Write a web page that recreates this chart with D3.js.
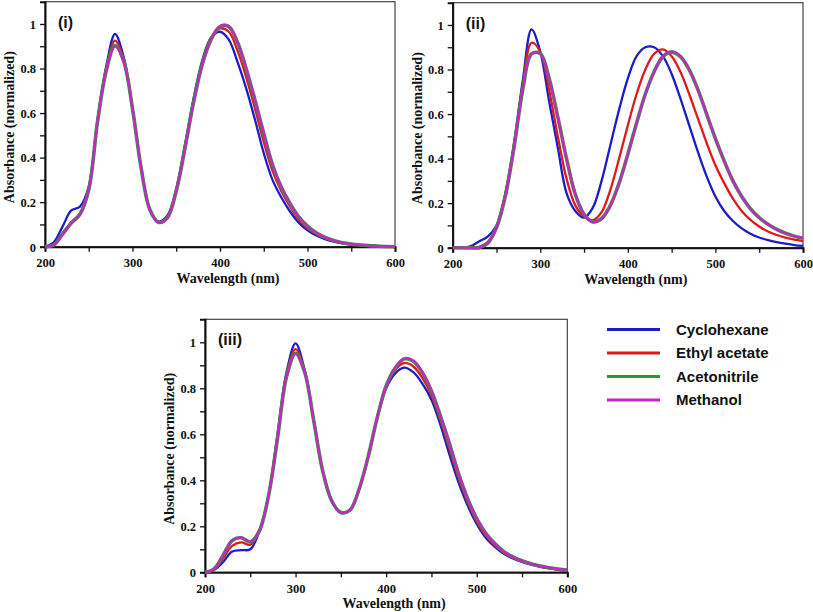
<!DOCTYPE html>
<html>
<head>
<meta charset="utf-8">
<script src="https://cdn.jsdelivr.net/npm/d3@7"></script>
<style>
  body { margin: 0; background: #fff; }
  .tick text { font-family: "Liberation Serif", serif; font-weight: bold; font-size: 12.5px; fill: #111; }
  .axis-title { font-family: "Liberation Serif", serif; font-weight: bold; font-size: 14px; fill: #111; }
  .panel-label { font-family: "Liberation Sans", Arial, sans-serif; font-weight: bold; font-size: 16px; fill: #111; }
  .legend-text { font-family: "Liberation Sans", Arial, sans-serif; font-weight: bold; font-size: 15px; fill: #111; }
</style>
</head>
<body>
<div id="chart"></div>
<script>
var svgWidth = 813;
var svgHeight = 612;

// wavelength grid (nm), same for all panels
var wavelengths = [200, 210, 220, 230, 240, 250, 260, 270, 280, 290, 300, 310, 320, 330, 340, 350, 360, 370, 380, 390,
    400, 410, 420, 430, 440, 450, 460, 470, 480, 490, 500, 510, 520, 530, 540, 550, 560, 570, 580, 590, 600];

var solvents = ["Cyclohexane", "Ethyl acetate", "Acetonitrile", "Methanol"];
var colors = ["#1c1cc8", "#e0191e", "#2a9a34", "#c824c8"];

var xTicks = [200, 250, 300, 350, 400, 450, 500, 550, 600];
var xTickLabels = [200, 300, 400, 500, 600];
var yTicks = [0, 0.1, 0.2, 0.3, 0.4, 0.5, 0.6, 0.7, 0.8, 0.9, 1];
var yTickLabels = [0, 0.2, 0.4, 0.6, 0.8, 1];

// panel (i)
var cyclohexane1 = [0, 0.02, 0.09, 0.163, 0.18, 0.27, 0.57, 0.81, 0.955, 0.85, 0.62, 0.35, 0.165, 0.113, 0.14, 0.26, 0.46, 0.67, 0.84, 0.94,
    0.965, 0.93, 0.83, 0.71, 0.57, 0.42, 0.3, 0.222, 0.158, 0.108, 0.073, 0.05, 0.034, 0.023, 0.015, 0.01, 0.006, 0.004, 0.002, 0.001, 0];
var ethylAcetate1 = [0, 0.01, 0.06, 0.11, 0.15, 0.26, 0.565, 0.8, 0.925, 0.84, 0.62, 0.35, 0.165, 0.11, 0.135, 0.255, 0.45, 0.66, 0.83, 0.94,
    0.98, 0.965, 0.88, 0.76, 0.62, 0.47, 0.34, 0.25, 0.18, 0.122, 0.083, 0.057, 0.039, 0.026, 0.017, 0.011, 0.007, 0.004, 0.002, 0.001, 0];
var acetonitrile1 = [0, 0.008, 0.056, 0.106, 0.146, 0.256, 0.56, 0.79, 0.903, 0.832, 0.62, 0.35, 0.165, 0.109, 0.131, 0.25, 0.442, 0.652, 0.822, 0.932,
    0.988, 0.988, 0.918, 0.798, 0.658, 0.508, 0.368, 0.268, 0.194, 0.134, 0.092, 0.062, 0.042, 0.028, 0.018, 0.012, 0.008, 0.005, 0.003, 0.001, 0];
var methanol1 = [0, 0.008, 0.055, 0.105, 0.145, 0.255, 0.56, 0.79, 0.9, 0.83, 0.62, 0.35, 0.165, 0.108, 0.13, 0.25, 0.44, 0.65, 0.82, 0.93,
    0.99, 0.99, 0.92, 0.8, 0.66, 0.51, 0.37, 0.27, 0.195, 0.135, 0.093, 0.063, 0.043, 0.028, 0.018, 0.012, 0.008, 0.005, 0.003, 0.001, 0];

// panel (ii)
var cyclohexane2 = [0, 0, 0.006, 0.028, 0.05, 0.1, 0.24, 0.47, 0.75, 0.98, 0.88, 0.66, 0.45, 0.245, 0.165, 0.135, 0.18, 0.3, 0.46, 0.62,
    0.76, 0.86, 0.9, 0.9, 0.86, 0.78, 0.67, 0.55, 0.43, 0.32, 0.23, 0.165, 0.12, 0.087, 0.063, 0.046, 0.034, 0.025, 0.018, 0.012, 0.008];
var ethylAcetate2 = [0, 0, 0, 0.004, 0.025, 0.095, 0.24, 0.46, 0.73, 0.92, 0.88, 0.71, 0.5, 0.31, 0.19, 0.14, 0.124, 0.16, 0.26, 0.4,
    0.55, 0.69, 0.8, 0.87, 0.89, 0.86, 0.79, 0.69, 0.58, 0.47, 0.37, 0.29, 0.22, 0.165, 0.125, 0.095, 0.073, 0.057, 0.045, 0.036, 0.03];
var acetonitrile2 = [0, 0, 0, 0, 0.02, 0.09, 0.23, 0.45, 0.71, 0.87, 0.872, 0.762, 0.587, 0.4, 0.24, 0.15, 0.116, 0.131, 0.19, 0.29,
    0.42, 0.56, 0.69, 0.79, 0.858, 0.878, 0.858, 0.8, 0.71, 0.6, 0.49, 0.39, 0.3, 0.23, 0.175, 0.135, 0.105, 0.082, 0.065, 0.052, 0.043];
var methanol2 = [0, 0, 0, 0, 0.02, 0.09, 0.23, 0.45, 0.71, 0.87, 0.87, 0.76, 0.585, 0.4, 0.24, 0.15, 0.115, 0.13, 0.19, 0.29,
    0.42, 0.56, 0.69, 0.79, 0.86, 0.88, 0.86, 0.8, 0.71, 0.6, 0.49, 0.39, 0.3, 0.23, 0.175, 0.135, 0.105, 0.082, 0.065, 0.052, 0.043];

// panel (iii)
var cyclohexane3 = [0, 0.01, 0.045, 0.09, 0.096, 0.1, 0.18, 0.33, 0.6, 0.87, 0.995, 0.88, 0.66, 0.44, 0.31, 0.26, 0.27, 0.36, 0.5, 0.67,
    0.8, 0.865, 0.89, 0.87, 0.82, 0.75, 0.64, 0.51, 0.39, 0.29, 0.21, 0.15, 0.11, 0.08, 0.06, 0.045, 0.033, 0.024, 0.017, 0.011, 0.007];
var ethylAcetate3 = [0, 0.012, 0.06, 0.115, 0.13, 0.12, 0.18, 0.33, 0.59, 0.86, 0.97, 0.875, 0.66, 0.44, 0.31, 0.26, 0.27, 0.36, 0.5, 0.67,
    0.81, 0.88, 0.91, 0.895, 0.845, 0.77, 0.66, 0.535, 0.41, 0.305, 0.22, 0.16, 0.117, 0.085, 0.063, 0.047, 0.035, 0.026, 0.018, 0.012, 0.008];
var acetonitrile3 = [0, 0.015, 0.074, 0.138, 0.15, 0.132, 0.18, 0.33, 0.58, 0.85, 0.952, 0.871, 0.66, 0.44, 0.31, 0.26, 0.27, 0.36, 0.5, 0.67,
    0.81, 0.888, 0.928, 0.918, 0.868, 0.788, 0.678, 0.558, 0.428, 0.32, 0.234, 0.17, 0.125, 0.09, 0.067, 0.05, 0.037, 0.027, 0.02, 0.014, 0.01];
var methanol3 = [0, 0.015, 0.075, 0.14, 0.152, 0.133, 0.18, 0.33, 0.58, 0.85, 0.95, 0.87, 0.66, 0.44, 0.31, 0.26, 0.27, 0.36, 0.5, 0.67,
    0.81, 0.89, 0.93, 0.92, 0.87, 0.79, 0.68, 0.56, 0.43, 0.32, 0.235, 0.17, 0.125, 0.09, 0.067, 0.05, 0.037, 0.027, 0.02, 0.014, 0.01];

var panels = [
    { label: "(i)", left: 45, right: 395, top: 1.7, bottom: 246.7,
      series: [cyclohexane1, ethylAcetate1, acetonitrile1, methanol1] },
    { label: "(ii)", left: 452.7, right: 803, top: 2.7, bottom: 247.7,
      series: [cyclohexane2, ethylAcetate2, acetonitrile2, methanol2] },
    { label: "(iii)", left: 205, right: 567.3, top: 319.3, bottom: 572.3,
      series: [cyclohexane3, ethylAcetate3, acetonitrile3, methanol3] }
];

var svg = d3.select("#chart")
    .append("svg")
    .attr("width", svgWidth)
    .attr("height", svgHeight);

function drawPanel(p) {
    var xScale = d3.scaleLinear().domain([200, 600]).range([p.left, p.right]);
    var yScale = d3.scaleLinear().domain([0, 1.1]).range([p.bottom, p.top]);

    var g = svg.append("g");

    // frame
    g.append("rect")
        .attr("x", p.left)
        .attr("y", p.top)
        .attr("width", p.right - p.left)
        .attr("height", p.bottom - p.top)
        .attr("fill", "none")
        .attr("stroke", "#444")
        .attr("stroke-width", 1.2);

    var bottomAxis = d3.axisBottom(xScale)
        .tickValues(xTicks)
        .tickSize(5)
        .tickFormat(d => xTickLabels.indexOf(d) >= 0 ? d : "");
    var leftAxis = d3.axisLeft(yScale)
        .tickValues(yTicks)
        .tickSize(5)
        .tickPadding(4)
        .tickFormat(d => yTickLabels.some(v => Math.abs(v - d) < 1e-6) ? d3.format("~g")(d) : "");

    var xAxis = g.append("g")
        .attr("transform", `translate(0, ${p.bottom})`)
        .call(bottomAxis);
    var yAxis = g.append("g")
        .attr("transform", `translate(${p.left}, 0)`)
        .call(leftAxis);

    [xAxis, yAxis].forEach(function(ax) {
        ax.select(".domain").attr("stroke", "#111").attr("stroke-width", 2);
        ax.selectAll(".tick line").attr("stroke", "#111").attr("stroke-width", 1.3);
    });
    xAxis.selectAll(".tick text").attr("dy", "1em");
    yAxis.selectAll(".tick text").attr("dy", "0.35em");

    // curves
    var line = d3.line()
        .x((d, i) => xScale(wavelengths[i]))
        .y(d => yScale(d))
        .curve(d3.curveCatmullRom.alpha(0.5));

    p.series.forEach(function(s, i) {
        g.append("path")
            .datum(s)
            .attr("d", line)
            .attr("fill", "none")
            .attr("stroke", colors[i])
            .attr("stroke-width", i == 2 ? 3.6 : 2.3)
            .attr("stroke-linejoin", "round");
    });

    // axis titles
    g.append("text")
        .attr("class", "axis-title")
        .attr("x", (p.left + p.right) / 2 + 8)
        .attr("y", p.bottom + 36)
        .attr("text-anchor", "middle")
        .text("Wavelength (nm)");

    g.append("text")
        .attr("class", "axis-title")
        .attr("transform", `translate(${p.left - 31}, ${(p.top + p.bottom) / 2 + 3}) rotate(-90)`)
        .attr("text-anchor", "middle")
        .text("Absorbance (normalized)");

    g.append("text")
        .attr("class", "panel-label")
        .attr("x", p.left + 13)
        .attr("y", p.top + 26)
        .text(p.label);
}

panels.forEach(drawPanel);

// legend
var legend = svg.append("g");
solvents.forEach(function(name, i) {
    var y = 329.5 + i * 23.5;
    legend.append("line")
        .attr("x1", 607)
        .attr("x2", 660)
        .attr("y1", y)
        .attr("y2", y)
        .attr("stroke", colors[i])
        .attr("stroke-width", 3);
    legend.append("text")
        .attr("class", "legend-text")
        .attr("x", 676)
        .attr("y", y)
        .attr("dy", "0.35em")
        .text(name);
});
</script>
</body>
</html>
